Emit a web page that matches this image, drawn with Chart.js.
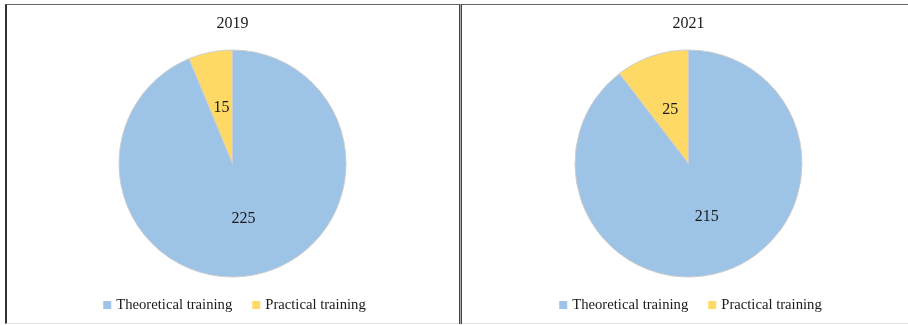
<!DOCTYPE html>
<html>
<head>
<meta charset="utf-8">
<script src="https://cdn.jsdelivr.net/npm/chart.js@4"></script>
<style>
  html, body { margin: 0; padding: 0; background: #fff; overflow: hidden; width: 908px; height: 325px; }
  .frame { position: absolute; left: 5px; top: 4px; width: 910px; height: 318px;
           border-top: 1px solid #666; border-left: 2px solid #333; border-bottom: 1px solid #e2e2e2; }
  .divider { position: absolute; left: 459px; top: 4px; width: 1px; height: 320px;
             border-left: 1px solid #444; border-right: 1px solid #444; background: #aaa; }
  .panel { position: absolute; top: 5px; width: 453px; height: 318px; }
</style>
</head>
<body>
<div class="frame"></div>
<div class="divider"></div>
<div class="panel" style="left:6px"><canvas id="pie2019" width="453" height="318"></canvas></div>
<div class="panel" style="left:462px"><canvas id="pie2021" width="453" height="318"></canvas></div>
<script>
// Hours split by training type, per year
const categories = ['Theoretical training', 'Practical training'];
const years = ['2019', '2021'];
const values2019 = [225, 15];
const values2021 = [215, 25];
const sliceColors = ['#9DC3E6', '#FFD966'];

const SERIF = '"Liberation Serif", "Times New Roman", serif';
const TEXT_COLOR = '#1a1a1a';

// Writes each slice's value at the middle of its wedge
const valueLabels = {
  id: 'valueLabels',
  afterDatasetsDraw(chart) {
    const ctx = chart.ctx;
    const meta = chart.getDatasetMeta(0);
    const data = chart.data.datasets[0].data;
    ctx.save();
    ctx.font = '16px ' + SERIF;
    ctx.fillStyle = TEXT_COLOR;
    ctx.textAlign = 'center';
    ctx.textBaseline = 'middle';
    meta.data.forEach((arc, i) => {
      const p = arc.tooltipPosition();
      ctx.fillText(String(data[i]), p.x, p.y);
    });
    ctx.restore();
  }
};

// Compact legend row under the pie: small square swatch + label
const swatchLegend = {
  id: 'swatchLegend',
  afterDraw(chart) {
    const ctx = chart.ctx;
    const labels = chart.data.labels;
    const colors = chart.data.datasets[0].backgroundColor;
    const box = 8, gap = 5, itemGap = 20;
    ctx.save();
    ctx.font = '14.67px ' + SERIF;
    ctx.textBaseline = 'middle';
    const widths = labels.map(t => ctx.measureText(t).width);
    const total = widths.reduce((s, w) => s + box + gap + w, 0) + itemGap * (labels.length - 1);
    let x = chart.width / 2 - total / 2 + 2;
    const y = chart.chartArea.bottom + 23;
    labels.forEach((t, i) => {
      ctx.fillStyle = colors[i];
      ctx.fillRect(x, y - 4, box, box);
      ctx.fillStyle = TEXT_COLOR;
      ctx.fillText(t, x + box + gap, y);
      x += box + gap + widths[i] + itemGap;
    });
    ctx.restore();
  }
};

function makePie(canvasId, year, values) {
  return new Chart(document.getElementById(canvasId), {
    type: 'pie',
    data: {
      labels: categories,
      datasets: [{
        data: values,
        backgroundColor: sliceColors,
        borderColor: '#cdcdcd',
        borderWidth: 1
      }]
    },
    options: {
      responsive: false,
      animation: false,
      events: [],
      rotation: 0,
      radius: 113.5,
      layout: { padding: { top: 0, bottom: 41, left: 0, right: 0 } },
      plugins: {
        legend: { display: false },
        tooltip: { enabled: false },
        title: {
          display: true,
          text: year,
          color: TEXT_COLOR,
          font: { family: SERIF, size: 16, weight: 'normal' },
          padding: { top: 9, bottom: 11.8 }
        }
      }
    },
    plugins: [valueLabels, swatchLegend]
  });
}

makePie('pie2019', years[0], values2019);
makePie('pie2021', years[1], values2021);
</script>
</body>
</html>
